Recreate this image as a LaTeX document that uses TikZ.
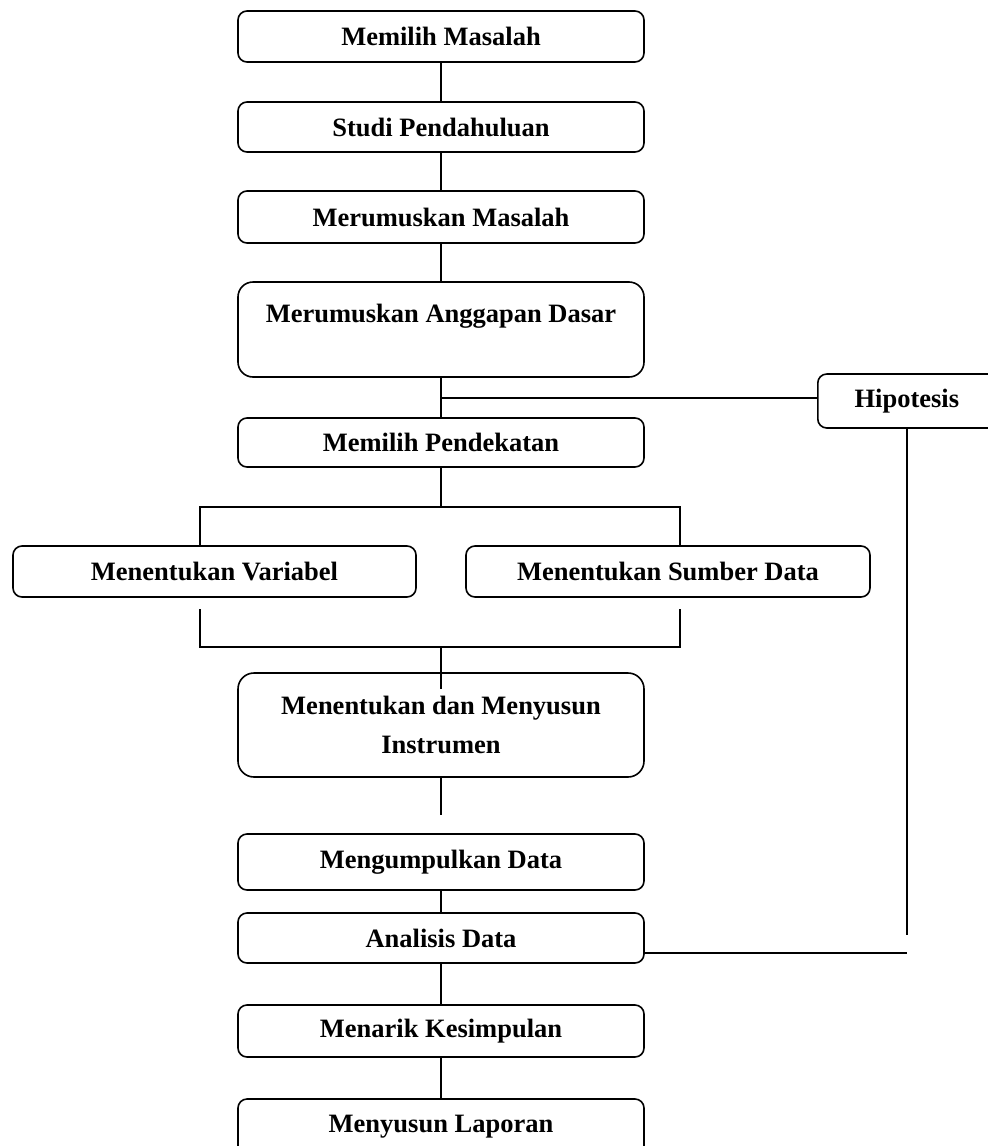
\documentclass[tikz,border=0pt]{standalone}
\usepackage{fontspec}
\setmainfont{Liberation Serif}
\begin{document}
\begin{tikzpicture}[x=1pt,y=-1pt,line width=1.6pt,
  box/.style={draw, rounded corners=9pt, minimum width=406pt, inner sep=0pt,
    font=\fontsize{26.5}{39}\selectfont\bfseries},
  link/.style={draw, line width=1.6pt}]
\useasboundingbox (0,0) rectangle (988,1146);
\clip (0,0) rectangle (988,1146);
\node[box, minimum height=51pt] (m1) at (441,36.5) {Memilih Masalah};
\node[box, minimum height=50pt] (m2) at (441,127) {Studi Pendahuluan};
\node[box, minimum height=52pt] (m3) at (441,217) {Merumuskan Masalah};
\node[box, minimum height=95pt, rounded corners=15pt, text height=18pt, text depth=33pt] (m4) at (441,329.5) {Merumuskan Anggapan Dasar};
\node[box, minimum height=49pt] (m5) at (441,442.5) {Memilih Pendekatan};
\node[box, minimum height=51pt, minimum width=403pt] (m6) at (214.5,571.5) {Menentukan Variabel};
\node[box, minimum height=51pt, minimum width=404pt] (m7) at (668,571.5) {Menentukan Sumber Data};
\node[box, minimum height=104pt, rounded corners=16pt, align=center] (m8) at (441,725) {Menentukan dan Menyusun\\Instrumen};
\node[box, minimum height=56pt] (m9) at (441,862) {Mengumpulkan Data};
\node[box, minimum height=50pt] (m10) at (441,938) {Analisis Data};
\node[box, minimum height=52pt] (m11) at (441,1031) {Menarik Kesimpulan};
\node[box, minimum height=56pt] (m12) at (441,1127) {Menyusun Laporan};
\node[box, minimum height=54pt, minimum width=200pt, anchor=west] (hip) at (817,401) {Hipotesis\hspace*{22pt}};
% coordinates
\coordinate (hj) at (441,398);
\coordinate (f1) at (441,507);
\coordinate (fl) at (200,507);
\coordinate (fr) at (680,507);
\coordinate (gl) at (200,609);
\coordinate (gr) at (680,609);
\coordinate (jl) at (200,647);
\coordinate (jr) at (680,647);
\coordinate (jc) at (441,647);
\coordinate (je) at (441,689);
\coordinate (ie) at (441,815);
\coordinate (hv) at (907,935);
\coordinate (ah) at (907,953);
% connectors
\draw[link] (m1.south) -- (m2.north);
\draw[link] (m2.south) -- (m3.north);
\draw[link] (m3.south) -- (m4.north);
\draw[link] (m4.south) -- (m5.north);
\draw[link] (hj) -- (hip.west |- hj);
\draw[link] (m5.south) -- (f1);
\draw[link] (fl |- m6.north) -- (fl) -- (fr) -- (fr |- m7.north);
\draw[link] (gl) -- (jl) -- (jr) -- (gr);
\draw[link] (jc) -- (je);
\draw[link] (m8.south) -- (ie);
\draw[link] (m9.south) -- (m10.north);
\draw[link] (m10.south) -- (m11.north);
\draw[link] (m11.south) -- (m12.north);
\draw[link] (hip.south -| hv) -- (hv);
\draw[link] (m10.east |- ah) -- (ah);
\end{tikzpicture}
\end{document}
